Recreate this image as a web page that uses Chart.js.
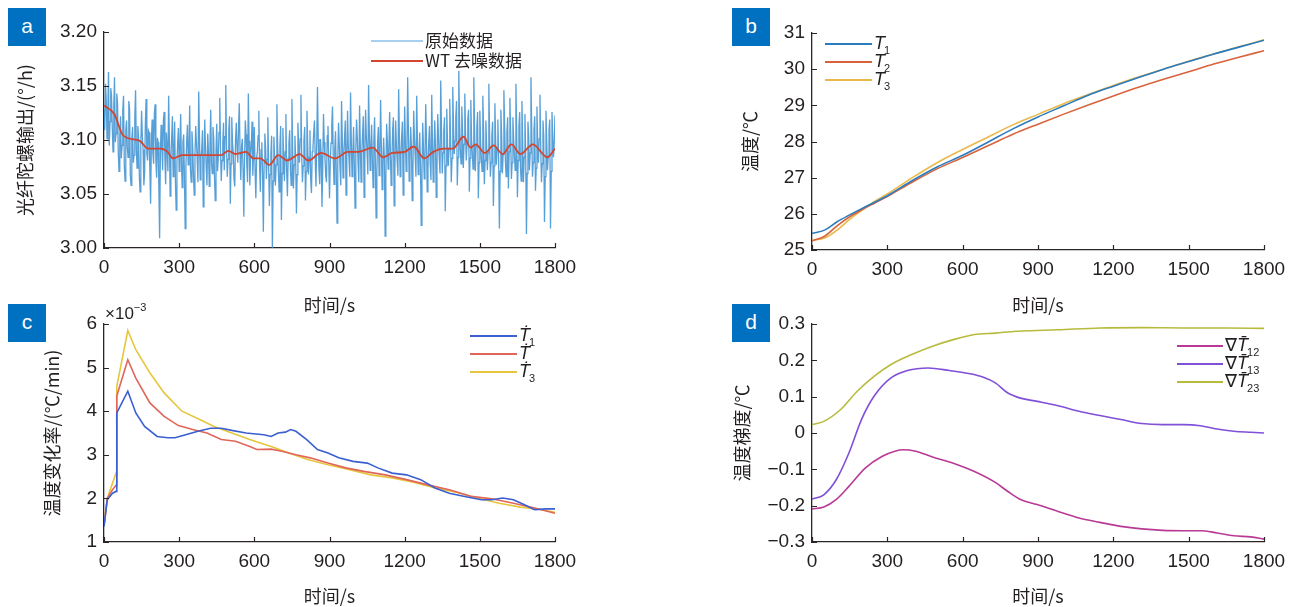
<!DOCTYPE html>
<html>
<head>
<meta charset="utf-8">
<script src="https://cdn.jsdelivr.net/npm/chart.js@4.4.1/dist/chart.umd.min.js"></script>
<style>
body { margin: 0; background: #fff; width: 1296px; height: 607px; overflow: hidden; position: relative; }
canvas { position: absolute; }
.tag { position: absolute; width: 38px; height: 38px; background: #0070c0; color: #fff;
       font: 21px 'Liberation Sans', Arial, sans-serif; text-align: center; line-height: 35px; }
</style>
</head>
<body>
<canvas id="ca" width="648" height="318" style="left:0;top:0"></canvas>
<canvas id="cb" width="648" height="318" style="left:648px;top:0"></canvas>
<canvas id="cc" width="648" height="307" style="left:0;top:300px"></canvas>
<canvas id="cd" width="648" height="307" style="left:648px;top:300px"></canvas>
<div class="tag" style="left:8px;top:8px">a</div>
<div class="tag" style="left:732px;top:8px">b</div>
<div class="tag" style="left:8px;top:304px">c</div>
<div class="tag" style="left:732px;top:304px">d</div>
<script>
// ---- a: gyro output, raw samples every 3 s (one row per minute) and wavelet-denoised curve ----
const rawGyro = [
  3.128, 3.109, 3.152, 3.137, 3.101, 3.124, 3.163, 3.095, 3.117, 3.148, 3.141, 3.112, 3.089, 3.131, 3.158, 3.098, 3.106, 3.143, 3.134, 3.088,
  3.071, 3.104, 3.122, 3.083, 3.095, 3.128, 3.141, 3.077, 3.062, 3.109, 3.118, 3.093, 3.084, 3.136, 3.129, 3.068, 3.058, 3.101, 3.112, 3.079,
  3.086, 3.121, 3.146, 3.092, 3.074, 3.113, 3.103, 3.067, 3.052, 3.096, 3.127, 3.104, 3.091, 3.058, 3.069, 3.115, 3.138, 3.087, 3.081, 3.109,
  3.107, 3.072, 3.041, 3.096, 3.119, 3.088, 3.078, 3.124, 3.133, 3.081, 3.065, 3.102, 3.098, 3.056, 3.009, 3.087, 3.114, 3.093, 3.072, 3.118,
  3.126, 3.084, 3.059, 3.107, 3.093, 3.071, 3.141, 3.099, 3.048, 3.083, 3.102, 3.122, 3.066, 3.091, 3.117, 3.062, 3.035, 3.079, 3.097, 3.111,
  3.071, 3.092, 3.124, 3.081, 3.056, 3.098, 3.105, 3.067, 3.018, 3.076, 3.099, 3.114, 3.077, 3.089, 3.132, 3.073, 3.061, 3.108, 3.094, 3.069,
  3.049, 3.086, 3.113, 3.097, 3.082, 3.061, 3.145, 3.103, 3.063, 3.084, 3.091, 3.109, 3.038, 3.072, 3.119, 3.094, 3.074, 3.058, 3.106, 3.088,
  3.057, 3.096, 3.128, 3.079, 3.069, 3.112, 3.101, 3.066, 3.044, 3.089, 3.115, 3.071, 3.083, 3.107, 3.139, 3.092, 3.062, 3.081, 3.097, 3.116,
  3.072, 3.103, 3.151, 3.094, 3.066, 3.082, 3.109, 3.122, 3.041, 3.078, 3.121, 3.097, 3.088, 3.063, 3.057, 3.101, 3.116, 3.091, 3.079, 3.112,
  3.134, 3.087, 3.063, 3.094, 3.101, 3.073, 3.029, 3.082, 3.118, 3.105, 3.076, 3.061, 3.143, 3.099, 3.058, 3.084, 3.095, 3.117, 3.067, 3.088,
  3.112, 3.071, 3.046, 3.083, 3.089, 3.104, 3.127, 3.075, 3.052, 3.091, 3.098, 3.068, 3.015, 3.079, 3.106, 3.093, 3.064, 3.082, 3.121, 3.077,
  3.039, 3.068, 3.087, 3.104, 2.997, 3.062, 3.103, 3.084, 3.058, 3.077, 3.133, 3.096, 3.071, 3.052, 3.094, 3.113, 3.026, 3.069, 3.111, 3.086,
  3.062, 3.089, 3.124, 3.071, 3.048, 3.083, 3.097, 3.109, 3.073, 3.058, 3.138, 3.091, 3.055, 3.077, 3.104, 3.082, 3.032, 3.068, 3.116, 3.094,
  3.079, 3.101, 3.142, 3.087, 3.061, 3.076, 3.099, 3.112, 3.044, 3.071, 3.127, 3.095, 3.068, 3.084, 3.109, 3.063, 3.051, 3.089, 3.093, 3.107,
  3.118, 3.082, 3.057, 3.097, 3.149, 3.101, 3.072, 3.059, 3.101, 3.086, 3.038, 3.074, 3.124, 3.098, 3.083, 3.067, 3.061, 3.104, 3.113, 3.079,
  3.046, 3.078, 3.097, 3.113, 3.131, 3.084, 3.059, 3.092, 3.108, 3.071, 3.023, 3.081, 3.116, 3.096, 3.074, 3.058, 3.136, 3.101, 3.065, 3.087,
  3.102, 3.118, 3.049, 3.083, 3.127, 3.094, 3.081, 3.066, 3.144, 3.099, 3.066, 3.085, 3.112, 3.079, 3.037, 3.091, 3.119, 3.102, 3.078, 3.061,
  3.132, 3.095, 3.061, 3.087, 3.106, 3.122, 3.047, 3.081, 3.128, 3.103, 3.089, 3.068, 3.151, 3.106, 3.072, 3.093, 3.114, 3.082, 3.056, 3.098,
  3.121, 3.079, 3.028, 3.071, 3.098, 3.112, 3.067, 3.085, 3.137, 3.094, 3.054, 3.077, 3.102, 3.083, 3.011, 3.066, 3.115, 3.098, 3.073, 3.092,
  3.126, 3.089, 3.058, 3.079, 3.109, 3.121, 3.039, 3.074, 3.118, 3.096, 3.081, 3.067, 3.147, 3.103, 3.066, 3.085, 3.103, 3.117, 3.049, 3.082,
  3.131, 3.098, 3.071, 3.089, 3.158, 3.107, 3.062, 3.081, 3.112, 3.094, 3.044, 3.072, 3.127, 3.101, 3.085, 3.066, 3.141, 3.099, 3.068, 3.083,
  3.107, 3.077, 3.021, 3.068, 3.116, 3.093, 3.064, 3.082, 3.133, 3.101, 3.052, 3.074, 3.098, 3.113, 3.077, 3.063, 3.142, 3.096, 3.061, 3.087,
  3.118, 3.094, 3.047, 3.078, 3.124, 3.102, 3.083, 3.069, 3.155, 3.108, 3.069, 3.088, 3.108, 3.121, 3.034, 3.076, 3.129, 3.097, 3.076, 3.091,
  3.138, 3.104, 3.061, 3.083, 3.149, 3.112, 3.087, 3.099, 3.121, 3.136, 3.058, 3.084, 3.164, 3.118, 3.092, 3.078, 3.131, 3.109, 3.074, 3.096,
  3.143, 3.106, 3.081, 3.097, 3.119, 3.128, 3.052, 3.083, 3.137, 3.101, 3.088, 3.073, 3.158, 3.112, 3.071, 3.094, 3.112, 3.126, 3.046, 3.079,
  3.127, 3.099, 3.083, 3.071, 3.141, 3.108, 3.059, 3.081, 3.118, 3.096, 3.072, 3.088, 3.152, 3.103, 3.066, 3.079, 3.104, 3.117, 3.039, 3.076,
  3.134, 3.101, 3.077, 3.092, 3.119, 3.082, 3.018, 3.071, 3.128, 3.105, 3.069, 3.087, 3.146, 3.113, 3.081, 3.066, 3.107, 3.121, 3.055, 3.089,
  3.139, 3.107, 3.064, 3.079, 3.121, 3.101, 3.086, 3.072, 3.152, 3.109, 3.047, 3.081, 3.113, 3.126, 3.075, 3.062, 3.136, 3.098, 3.061, 3.084,
  3.124, 3.087, 3.013, 3.069, 3.117, 3.103, 3.072, 3.088, 3.158, 3.111, 3.066, 3.079, 3.109, 3.122, 3.053, 3.074, 3.131, 3.096, 3.079, 3.101,
  3.142, 3.093, 3.061, 3.078, 3.118, 3.104, 3.024, 3.066, 3.127, 3.098, 3.072, 3.085, 3.109, 3.119, 3.018, 3.071, 3.126, 3.102, 3.084, 3.097,
  3.123
];
const rawTime = rawGyro.map((v, i) => i * 1800 / (rawGyro.length - 1));
const wtTime = [0, 41, 77, 141, 176, 226, 254, 276, 311, 382, 468, 496, 525, 567, 596, 624, 660, 695, 731, 781,
  816, 866, 923, 973, 1015, 1072, 1115, 1150, 1200, 1236, 1278, 1314, 1356, 1392, 1435, 1463, 1484, 1520, 1555, 1591,
  1626, 1662, 1712, 1769, 1800];
const wtGyro = [3.132, 3.124, 3.104, 3.0995, 3.092, 3.092, 3.089, 3.083, 3.086, 3.086, 3.086, 3.090, 3.087, 3.089, 3.083,
  3.083, 3.077, 3.086, 3.081, 3.087, 3.081, 3.088, 3.083, 3.089, 3.089, 3.093, 3.084, 3.088, 3.089, 3.094,
  3.083, 3.089, 3.092, 3.092, 3.103, 3.093, 3.096, 3.088, 3.095, 3.087, 3.096, 3.087, 3.096, 3.084, 3.092];

// ---- b: three temperature sensors ----
const tempTime = [0, 50, 100, 150, 200, 250, 300, 400, 500, 600, 700, 800, 900, 1000, 1100, 1200, 1300, 1400, 1500, 1600, 1700, 1800];
const temp1 = [25.46, 25.55, 25.78, 25.97, 26.15, 26.32, 26.5, 26.92, 27.3, 27.62, 27.98, 28.35, 28.68, 28.98, 29.28, 29.53, 29.77, 30.0, 30.21, 30.42, 30.61, 30.8];
const temp2 = [25.25, 25.38, 25.67, 25.92, 26.12, 26.3, 26.48, 26.88, 27.25, 27.56, 27.88, 28.2, 28.48, 28.75, 29.01, 29.26, 29.5, 29.72, 29.93, 30.14, 30.33, 30.51];
const temp3 = [25.27, 25.33, 25.55, 25.85, 26.1, 26.35, 26.55, 27.0, 27.42, 27.78, 28.12, 28.46, 28.75, 29.04, 29.3, 29.55, 29.78, 30.0, 30.22, 30.42, 30.62, 30.81];

// ---- c: temperature rate (x1e-3 ℃/min) ----
const rate1Time = [0, 13, 34, 48, 51, 95, 127, 162, 212, 255, 283, 326, 375, 425, 468, 510, 567, 638, 667, 695, 724, 745, 766,
  809, 852, 894, 937, 994, 1051, 1093, 1150, 1207, 1264, 1321, 1378, 1435, 1506, 1548, 1591, 1634, 1676, 1719, 1762, 1800];
const rate1 = [1.36, 1.97, 2.12, 2.16, 3.96, 4.46, 3.96, 3.65, 3.42, 3.39, 3.39, 3.46, 3.54, 3.61, 3.61, 3.56, 3.5, 3.46, 3.42, 3.5,
  3.52, 3.58, 3.54, 3.35, 3.12, 3.04, 2.93, 2.85, 2.81, 2.7, 2.58, 2.54, 2.43, 2.24, 2.12, 2.05, 1.97, 1.97, 2.01, 1.97, 1.86, 1.74, 1.76, 1.76];
const rate2Time = [0, 13, 34, 48, 51, 95, 127, 183, 240, 297, 354, 411, 468, 525, 582, 610, 667, 710, 766, 823, 894, 965,
  1037, 1122, 1207, 1292, 1378, 1464, 1548, 1634, 1719, 1800];
const rate2 = [1.36, 2.0, 2.2, 2.3, 4.35, 5.18, 4.76, 4.19, 3.88, 3.67, 3.58, 3.5, 3.35, 3.31, 3.19, 3.12, 3.13, 3.08, 3.0, 2.93,
  2.81, 2.7, 2.62, 2.54, 2.43, 2.31, 2.2, 2.05, 1.99, 1.89, 1.78, 1.66];
const rate3Time = [0, 13, 40, 48, 51, 95, 127, 183, 240, 311, 382, 439, 510, 582, 667, 738, 809, 894, 980, 1065, 1150, 1236,
  1321, 1406, 1491, 1577, 1662, 1748, 1800];
const rate3 = [1.4, 2.0, 2.45, 2.58, 4.57, 5.85, 5.41, 4.88, 4.42, 4.0, 3.81, 3.65, 3.5, 3.35, 3.19, 3.04, 2.9, 2.77, 2.66, 2.54,
  2.47, 2.37, 2.24, 2.14, 2.01, 1.89, 1.8, 1.74, 1.68];

// ---- d: temperature gradients ----
const grad12Time = [0, 47, 97, 147, 213, 280, 330, 363, 413, 480, 563, 647, 730, 780, 830, 897, 980, 1063, 1147, 1230, 1313, 1397,
  1480, 1547, 1613, 1680, 1747, 1800];
const grad12 = [-0.209, -0.204, -0.183, -0.147, -0.096, -0.064, -0.05, -0.046, -0.05, -0.066, -0.083, -0.106, -0.136, -0.161,
  -0.183, -0.197, -0.216, -0.234, -0.246, -0.257, -0.264, -0.268, -0.269, -0.269, -0.275, -0.283, -0.286, -0.292];
const grad13Time = [0, 47, 97, 147, 197, 247, 313, 380, 463, 547, 630, 680, 730, 780, 830, 897, 980, 1063, 1147, 1230, 1313, 1397,
  1480, 1547, 1613, 1680, 1747, 1800];
const grad13 = [-0.182, -0.17, -0.128, -0.055, 0.037, 0.101, 0.151, 0.172, 0.179, 0.172, 0.163, 0.154, 0.138, 0.11, 0.096, 0.087,
  0.075, 0.06, 0.048, 0.037, 0.026, 0.023, 0.023, 0.02, 0.011, 0.005, 0.002, 0.0];
const grad23Time = [0, 47, 113, 180, 247, 313, 397, 480, 563, 647, 730, 813, 897, 980, 1147, 1313, 1480, 1647, 1800];
const grad23 = [0.023, 0.032, 0.064, 0.115, 0.156, 0.188, 0.216, 0.239, 0.257, 0.271, 0.275, 0.28, 0.282, 0.284, 0.289, 0.29,
  0.289, 0.289, 0.288];

const timeTicks = [0, 300, 600, 900, 1200, 1500, 1800];

const AXIS = '#2b2526';
const SANS = "'Liberation Sans', Arial, sans-serif";
const CJK = "'Noto Sans CJK SC', sans-serif";
Chart.defaults.font.family = SANS;
Chart.defaults.color = '#231f20';

const pts = (xs, ys) => xs.map((x, i) => ({x: x, y: ys[i]}));

// small legend keys and notes, in canvas coordinates
function symbol(ctx, x, y, main, sub) {
  ctx.font = 'italic 18px ' + SANS + ", 'DejaVu Sans'";
  ctx.fillText(main, x, y);
  const w = ctx.measureText(main).width;
  if (sub) {
    ctx.font = '11px ' + SANS;
    ctx.fillText(sub, x + w - 1, y + 7);
  }
}
function nabla(ctx, x, y, sub) {
  ctx.font = '18px ' + SANS + ", 'DejaVu Sans'";
  ctx.fillText('∇', x, y);
  const w = ctx.measureText('∇').width;
  symbol(ctx, x + w, y, 'T̄', sub);
}
const keys = {
  ca: [
    {x1: 371, x2: 423, y: 41, color: '#a8d0f0', draw: (c, x, y) => { c.font = '17px ' + CJK; c.fillText('原始数据', x, y); }},
    {x1: 371, x2: 423, y: 61, color: '#d2452f', draw: (c, x, y) => { c.font = '17px ' + CJK; c.fillText('WT 去噪数据', x, y); }}
  ],
  cb: [
    {x1: 177, x2: 224, y: 44, color: '#2b7bbf', draw: (c, x, y) => symbol(c, x, y, 'T', '1')},
    {x1: 177, x2: 224, y: 62, color: '#d8633b', draw: (c, x, y) => symbol(c, x, y, 'T', '2')},
    {x1: 177, x2: 224, y: 80, color: '#e9b94a', draw: (c, x, y) => symbol(c, x, y, 'T', '3')}
  ],
  cc: [
    {x1: 470, x2: 517, y: 36, color: '#3b5fd0', draw: (c, x, y) => symbol(c, x, y, 'Ṫ', '1')},
    {x1: 470, x2: 517, y: 54, color: '#e0665a', draw: (c, x, y) => symbol(c, x, y, 'Ṫ', '')},
    {x1: 470, x2: 517, y: 72, color: '#e6c63c', draw: (c, x, y) => symbol(c, x, y, 'Ṫ', '3')}
  ],
  cd: [
    {x1: 529, x2: 575, y: 46, color: '#b83a96', draw: (c, x, y) => nabla(c, x, y, '12')},
    {x1: 529, x2: 575, y: 64, color: '#8050d8', draw: (c, x, y) => nabla(c, x, y, '13')},
    {x1: 529, x2: 575, y: 82, color: '#b7bb3c', draw: (c, x, y) => nabla(c, x, y, '23')}
  ]
};

const decor = {
  id: 'decor',
  afterDraw(chart) {
    const {ctx, chartArea, scales} = chart;
    ctx.save();
    // inward tick marks
    ctx.strokeStyle = AXIS;
    ctx.lineWidth = 1.2;
    ctx.beginPath();
    scales.x.ticks.forEach(t => {
      const px = Math.round(scales.x.getPixelForValue(t.value)) + 0.5;
      ctx.moveTo(px, chartArea.bottom);
      ctx.lineTo(px, chartArea.bottom - 5);
    });
    scales.y.ticks.forEach(t => {
      const py = Math.round(scales.y.getPixelForValue(t.value)) + 0.5;
      ctx.moveTo(chartArea.left, py);
      ctx.lineTo(chartArea.left + 5, py);
    });
    ctx.stroke();
    // legend keys
    ctx.fillStyle = '#231f20';
    ctx.textBaseline = 'middle';
    (keys[chart.canvas.id] || []).forEach(k => {
      ctx.strokeStyle = k.color;
      ctx.lineWidth = 1.8;
      ctx.beginPath();
      ctx.moveTo(k.x1, k.y);
      ctx.lineTo(k.x2, k.y);
      ctx.stroke();
      k.draw(ctx, k.x2 + 2, k.y);
    });
    if (chart.canvas.id === 'cc') {
      ctx.font = '17px ' + SANS;
      ctx.fillText('×10', 105, 14);
      const w = ctx.measureText('×10').width;
      ctx.font = '11px ' + SANS;
      ctx.fillText('−3', 105 + w, 8);
    }
    ctx.restore();
  }
};

function makeChart(id, datasets, opt) {
  return new Chart(document.getElementById(id), {
    type: 'line',
    data: {datasets: datasets},
    plugins: [decor],
    options: {
      responsive: false,
      animation: false,
      events: [],
      layout: {padding: {top: opt.top, right: opt.right, left: 0, bottom: 0}},
      elements: {point: {radius: 0}, line: {borderWidth: 1.6}},
      plugins: {legend: {display: false}, tooltip: {enabled: false}},
      scales: {
        x: {
          type: 'linear', min: 0, max: 1800,
          grid: {display: false, drawTicks: false},
          border: {color: AXIS, width: 1.3},
          afterBuildTicks: s => { s.ticks = timeTicks.map(v => ({value: v})); },
          ticks: {font: {size: 19, family: SANS}, padding: 8, maxRotation: 0, autoSkip: false, callback: v => String(v)},
          title: {display: true, text: '时间/s', font: {size: 18, family: CJK}, color: '#231f20',
                  padding: {top: 0, bottom: opt.xTitlePad}},
          afterFit: s => { s.height = opt.xHeight; }
        },
        y: {
          type: 'linear', min: opt.yMin, max: opt.yMax,
          grid: {display: false, drawTicks: false},
          border: {color: AXIS, width: 1.3},
          afterBuildTicks: s => { s.ticks = opt.yTicks.map(v => ({value: v})); },
          ticks: {font: {size: 19, family: SANS}, padding: 7, callback: opt.yFmt},
          title: {display: true, text: opt.yTitle, font: {size: 18, family: CJK}, color: '#231f20',
                  padding: {top: opt.yTitlePad, bottom: 0}},
          afterFit: s => { s.width = opt.yWidth; }
        }
      }
    }
  });
}

makeChart('ca', [
  {data: pts(wtTime, wtGyro), borderColor: '#d2452f', borderWidth: 1.8, tension: 0.4, cubicInterpolationMode: 'monotone', order: 0},
  {data: pts(rawTime, rawGyro), borderColor: 'rgba(58,142,208,0.85)', borderWidth: 1.3, tension: 0, order: 1}
], {top: 32, right: 93, xHeight: 70, xTitlePad: 2, yWidth: 104, yTitlePad: 14,
    yMin: 3.0, yMax: 3.2, yTicks: [3.0, 3.05, 3.1, 3.15, 3.2], yFmt: v => v.toFixed(2),
    yTitle: '光纤陀螺输出/(°/h)'});

makeChart('cb', [
  {data: pts(tempTime, temp1), borderColor: '#2b7bbf', cubicInterpolationMode: 'monotone'},
  {data: pts(tempTime, temp2), borderColor: '#d8633b', cubicInterpolationMode: 'monotone'},
  {data: pts(tempTime, temp3), borderColor: '#e9b94a', cubicInterpolationMode: 'monotone'}
], {top: 33, right: 32, xHeight: 68, xTitlePad: 2, yWidth: 164, yTitlePad: 91,
    yMin: 25, yMax: 31, yTicks: [25, 26, 27, 28, 29, 30, 31], yFmt: v => String(v),
    yTitle: '温度/℃'});

makeChart('cc', [
  {data: pts(rate1Time, rate1), borderColor: '#3b5fd0', tension: 0},
  {data: pts(rate2Time, rate2), borderColor: '#e0665a', tension: 0},
  {data: pts(rate3Time, rate3), borderColor: '#e6c63c', tension: 0}
], {top: 24, right: 93, xHeight: 65, xTitlePad: 0, yWidth: 104, yTitlePad: 41,
    yMin: 1, yMax: 6, yTicks: [1, 2, 3, 4, 5, 6], yFmt: v => String(v),
    yTitle: '温度变化率/(℃/min)'});

makeChart('cd', [
  {data: pts(grad12Time, grad12), borderColor: '#b83a96', cubicInterpolationMode: 'monotone'},
  {data: pts(grad13Time, grad13), borderColor: '#8050d8', cubicInterpolationMode: 'monotone'},
  {data: pts(grad23Time, grad23), borderColor: '#b7bb3c', cubicInterpolationMode: 'monotone'}
], {top: 24, right: 32, xHeight: 65, xTitlePad: 0, yWidth: 164, yTitlePad: 83,
    yMin: -0.3, yMax: 0.3, yTicks: [-0.3, -0.2, -0.1, 0, 0.1, 0.2, 0.3],
    yFmt: v => Math.abs(v) < 1e-9 ? '0' : (v < 0 ? '−' : '') + Math.abs(v).toFixed(1),
    yTitle: '温度梯度/℃'});
</script>
</body>
</html>
